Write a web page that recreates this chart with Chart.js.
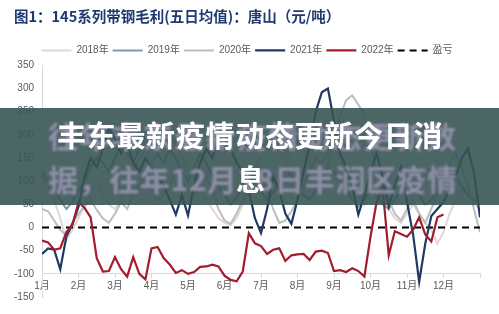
<!DOCTYPE html>
<html>
<head>
<meta charset="utf-8">
<script src="https://cdn.jsdelivr.net/npm/chart.js@4"></script>
<style>
  html, body { margin: 0; padding: 0; background: #fff; }
  #wrap { position: relative; width: 499px; height: 314px; overflow: hidden; }
  #chart { position: absolute; left: 0; top: 0; }
  .banner { position: absolute; left: 0; top: 108px; width: 499px; height: 97px; background: rgba(56, 84, 84, 0.9); }
  .ghost, .headline { position: absolute; font-family: "Noto Sans CJK SC", sans-serif; font-weight: 700; white-space: nowrap; line-height: 1; }
  .ghost { color: #8f8fa8; filter: blur(0.8px); font-size: 30px; }
  .headline { color: #fff; font-size: 29px; letter-spacing: 0.7px; }
</style>
</head>
<body>
<div id="wrap">
  <canvas id="chart" width="499" height="314"></canvas>
  <div class="banner">
    <div class="ghost" style="left:48px;top:12px;letter-spacing:1.5px">往年丰东最新疫情动态更新数</div>
    <div class="ghost" style="left:48px;top:55px;letter-spacing:0.6px">据，往年12月18日丰润区疫情</div>
    <div class="headline" style="left:57px;top:12px">丰东最新疫情动态更新今日消</div>
    <div class="headline" style="left:236px;top:56px">息</div>
  </div>
</div>
<script>
// Five-day average gross margin of 145-series strip steel in Tangshan, yuan/ton.
// One value per ~5-day period, six periods per month.
const months = ['1月', '2月', '3月', '4月', '5月', '6月', '7月', '8月', '9月', '10月', '11月', '12月'];
const periodsPerMonth = 6;
const periods = Array.from({ length: months.length * periodsPerMonth + 1 }, (_, i) => i);

const seriesNames = ['2018年', '2019年', '2020年', '2021年', '2022年'];
const breakEvenName = '盈亏';
const breakEven = 0;

const margin2018 = [110, 90, 60, 20, -28, -5, 20, 50, 80, 100, 70, 50, 40, 60, 90, 120, 150, 170, 140, 160,
  190, 210, 180, 150, 130, 110, 90, 60, 40, 20, 10, 5, 20, 50, 80, 120, 150, 180, 200, 170,
  140, 160, 190, 170, 140, 120, 100, 140, 170, 150, 120, 100, 80, 50, 70, 90, 60, 40, 20, 10,
  30, 50, 30, 10, -5, -35, -10, 30, 60, 80, 70, 50, 40];

const margin2019 = [120, 100, 80, 60, 40, 55, 80, 100, 130, 150, 140, 120, 150, 180, 160, 140, 170, 200, 190, 160,
  140, 170, 150, 120, 100, 130, 160, 140, 110, 90, 70, 50, 65, 90, 110, 100, 80, 60, 75, 100,
  130, 110, 90, 70, 60, 80, 100, 130, 120, 100, 80, 60, 45, 60, 80, 70, 50, 40, 60, 80,
  100, 90, 70, 50, 60, 80, 100, 120, 110, 90, 70, 60, 50];

const margin2020 = [40, 35, 15, -5, -18, 10, 30, 45, 60, 38, 20, 10, 30, 55, 40, 70, 90, 110, 80, 60,
  70, 90, 120, 100, 80, 70, 95, 110, 80, 40, 15, 8, 30, 60, 90, 120, 100, 80, 40, 10,
  15, 35, 60, 90, 120, 150, 140, 160, 200, 240, 275, 285, 265, 245, 180, 120, 90, 60, 30, 15,
  40, 60, 30, 10, 40, 70, 100, 140, 160, 130, 90, 40, -10];

const margin2021 = [-57, -45, -48, -90, -20, 8, 45, 110, 150, 130, 170, 215, 190, 160, 180, 140, 120, 150, 130, 110,
  90, 60, 28, 70, 26, 90, 140, 170, 150, 190, 210, 170, 140, 120, 80, 20, -12, 40, 110, 80,
  30, 8, 60, 120, 180, 250, 292, 300, 230, 160, 130, 90, 28, 70, 120, 160, 110, 45, 90, 130,
  55, -15, -117, -35, 25, 40, 55, 80, 110, 150, 170, 120, 22];

const margin2022 = [-28, -32, -48, -45, -10, 5, 55, 42, 22, -66, -95, -94, -64, -90, -106, -64, -100, -112, -45, -42,
  -66, -80, -98, -92, -100, -96, -85, -84, -80, -84, -104, -113, -116, -95, -12, -34, -40, -57, -48, -45,
  -72, -60, -58, -57, -70, -52, -50, -55, -94, -92, -96, -88, -94, -106, -20, 55, 85, -60, -8, -14,
  -20, -5, 22, -15, -30, 22, 28];

const yMin = -150, yMax = 350, yStep = 50;
const axisCrossing = -100;

const labelFont = { family: '"Liberation Sans", "Noto Sans CJK SC", sans-serif', size: 10 };
const labelColor = '#595959';
const axisColor = '#d9d9d9';

function line(label, data, color, order, width) {
  return { label, data, borderColor: color, backgroundColor: color, borderWidth: width, order, fill: false };
}

new Chart(document.getElementById('chart'), {
  type: 'line',
  data: {
    labels: periods,
    datasets: [
      line(seriesNames[0], margin2018, '#e4d6d6', 5, 2),
      line(seriesNames[1], margin2019, '#8497b0', 4, 2),
      line(seriesNames[2], margin2020, '#bdbdbd', 3, 2),
      line(seriesNames[3], margin2021, '#1f3864', 1, 2.2),
      line(seriesNames[4], margin2022, '#a31b2c', 0, 2.2),
      {
        label: breakEvenName,
        data: [{ x: periods[0], y: breakEven }, { x: periods[periods.length - 1], y: breakEven }],
        borderColor: '#000', backgroundColor: '#000', borderWidth: 2, borderDash: [7, 5], order: 2, fill: false
      }
    ]
  },
  options: {
    responsive: false,
    animation: false,
    devicePixelRatio: 1,
    layout: { padding: { left: 14, right: 19, top: 0, bottom: 17 } },
    elements: { point: { radius: 0 }, line: { tension: 0 } },
    plugins: {
      title: {
        display: true,
        text: '图1：145系列带钢毛利(五日均值)：唐山（元/吨）',
        align: 'start',
        color: '#1f3a70',
        font: { family: '"Noto Sans CJK SC", sans-serif', size: 14.5, weight: 'bold' },
        padding: { top: 8, bottom: 16 }
      },
      legend: {
        labels: {
          usePointStyle: true,
          pointStyle: 'line',
          pointStyleWidth: 30,
          boxHeight: 10,
          padding: 4,
          color: labelColor,
          font: labelFont,
          sort: (a, b) => a.datasetIndex - b.datasetIndex,
          generateLabels: chart => Chart.defaults.plugins.legend.labels.generateLabels(chart).map(item => {
            const ds = chart.data.datasets[item.datasetIndex];
            item.lineDash = ds.borderDash || [];
            item.lineWidth = ds.borderWidth;
            return item;
          })
        }
      },
      tooltip: { enabled: false }
    },
    scales: {
      x: {
        type: 'linear',
        min: periods[0],
        max: periods[periods.length - 1],
        position: { y: axisCrossing },
        grid: { drawOnChartArea: false, tickLength: 4, color: axisColor },
        border: { color: axisColor },
        ticks: {
          stepSize: periodsPerMonth,
          autoSkip: false,
          maxRotation: 0,
          padding: 2,
          color: labelColor,
          font: labelFont,
          callback: v => (v % periodsPerMonth === 0 && v / periodsPerMonth < months.length) ? months[v / periodsPerMonth] : ''
        }
      },
      y: {
        min: yMin,
        max: yMax,
        grid: { drawOnChartArea: false, drawTicks: false },
        border: { color: axisColor },
        ticks: { stepSize: yStep, padding: 8, color: labelColor, font: labelFont },
        afterFit: s => { s.width = 28; }
      }
    }
  }
});
</script>
</body>
</html>
